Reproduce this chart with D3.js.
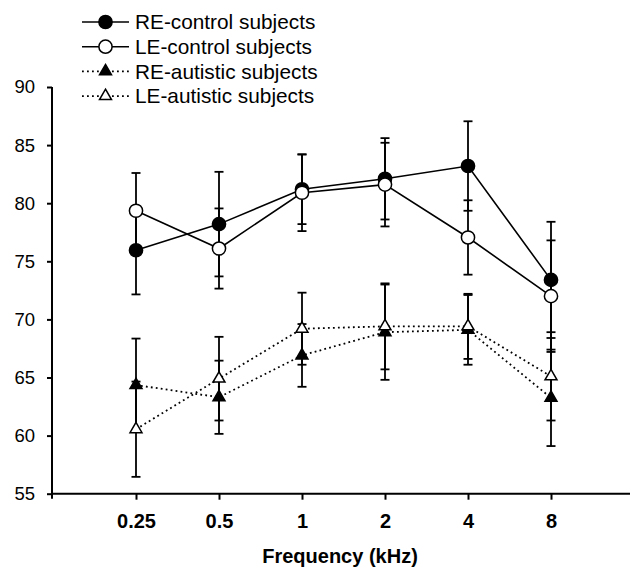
<!DOCTYPE html>
<html>
<head>
<meta charset="utf-8">
<script src="https://cdn.jsdelivr.net/npm/d3@7"></script>
<style>
  html, body { margin: 0; padding: 0; background: #fff; }
  svg { display: block; font-family: "Liberation Sans", Arial, sans-serif; }
</style>
</head>
<body>
<svg id="chart" width="630" height="567"></svg>
<script>
// ---- data ----
const frequencies = ["0.25", "0.5", "1", "2", "4", "8"];
const yTicks = [55, 60, 65, 70, 75, 80, 85, 90];

const reControl = [75.95, 78.2, 81.2, 82.1, 83.2, 73.4];
const reControlErr = [3.8, 4.5, 3.0, 3.5, 3.85, 5.0];
const leControl = [79.35, 76.1, 80.9, 81.6, 77.05, 72.0];
const leControlErr = [3.25, 3.45, 3.3, 3.6, 3.2, 4.8];
const reAutistic = [64.35, 63.3, 66.9, 68.9, 69.1, 63.25];
const reAutisticErr = [4.0, 3.15, 2.7, 4.1, 3.0, 4.15];
const leAutistic = [60.55, 64.9, 69.2, 69.4, 69.4, 65.1];
const leAutisticErr = [4.1, 3.6, 3.1, 3.7, 2.8, 3.8];

const seriesNames = ["RE-control subjects", "LE-control subjects", "RE-autistic subjects", "LE-autistic subjects"];

const series = [
  { name: seriesNames[0], values: reControl, err: reControlErr, shape: "circle", fill: "#000", dotted: false },
  { name: seriesNames[1], values: leControl, err: leControlErr, shape: "circle", fill: "#fff", dotted: false },
  { name: seriesNames[2], values: reAutistic, err: reAutisticErr, shape: "triangle", fill: "#000", dotted: true },
  { name: seriesNames[3], values: leAutistic, err: leAutisticErr, shape: "triangle", fill: "#fff", dotted: true }
];

// ---- scales ----
const svg = d3.select("#chart");
const x = d3.scalePoint().domain(frequencies).range([53, 634]).padding(1);
const y = d3.scaleLinear().domain([55, 90]).range([493.7, 87]);

// ---- axes ----
const yAxis = svg.append("g")
  .attr("transform", "translate(52,0)")
  .call(d3.axisLeft(y).tickValues(yTicks).tickSize(5).tickSizeOuter(0).tickPadding(12));
yAxis.select(".domain").attr("stroke-width", 2).attr("d", `M0,${y(90)}V${y(55) + 5}`);
yAxis.selectAll(".tick line").attr("stroke-width", 2);
yAxis.selectAll(".tick text").attr("font-size", 18.5).attr("fill", "#000")
  .attr("font-family", "Liberation Sans, Arial, sans-serif");

const xAxis = svg.append("g")
  .attr("transform", `translate(0,${y(55)})`)
  .call(d3.axisBottom(x).tickSize(6).tickSizeOuter(0).tickPadding(14));
xAxis.select(".domain").attr("stroke-width", 2).attr("d", `M51,0H634`);
xAxis.selectAll(".tick line").attr("stroke-width", 2);
xAxis.selectAll(".tick text").attr("font-size", 20).attr("font-weight", "bold").attr("fill", "#000")
  .attr("font-family", "Liberation Sans, Arial, sans-serif");

svg.append("text")
  .attr("x", 340).attr("y", 563)
  .attr("text-anchor", "middle")
  .attr("font-size", 20).attr("font-weight", "bold")
  .text("Frequency (kHz)");

// ---- marks ----
const symTri = d3.symbol().type(d3.symbolTriangle).size(62);
function drawMarker(g, s, cx, cy) {
  if (s.shape === "circle") {
    g.append("circle").attr("cx", cx).attr("cy", cy).attr("r", 6.6)
      .attr("fill", s.fill).attr("stroke", "#000").attr("stroke-width", 1.5);
  } else {
    g.append("path").attr("d", symTri()).attr("transform", `translate(${cx},${cy})`)
      .attr("fill", s.fill).attr("stroke", "#000").attr("stroke-width", 1.5);
  }
}

const errG = svg.append("g");
series.forEach(s => {
  s.values.forEach((v, i) => {
    const cx = x(frequencies[i]);
    const y1 = y(v + s.err[i]), y2 = y(v - s.err[i]);
    errG.append("line").attr("x1", cx).attr("x2", cx).attr("y1", y1).attr("y2", y2)
      .attr("stroke", "#000").attr("stroke-width", 1.8);
    [y1, y2].forEach(yy => errG.append("line")
      .attr("x1", cx - 4.5).attr("x2", cx + 4.5).attr("y1", yy).attr("y2", yy)
      .attr("stroke", "#000").attr("stroke-width", 1.8));
  });
});

const lineGen = d3.line().x((d, i) => x(frequencies[i])).y(d => y(d));
const linesG = svg.append("g");
series.forEach(s => {
  linesG.append("path").attr("d", lineGen(s.values))
    .attr("fill", "none").attr("stroke", "#000")
    .attr("stroke-width", s.dotted ? 1.8 : 1.6)
    .attr("stroke-dasharray", s.dotted ? "1.8,3.2" : null);
});

const markG = svg.append("g");
series.forEach(s => {
  s.values.forEach((v, i) => drawMarker(markG, s, x(frequencies[i]), y(v)));
});

// ---- legend ----
const legend = svg.append("g");
series.forEach((s, i) => {
  const ly = 22 + i * 24.7;
  legend.append("line").attr("x1", 82).attr("x2", 129).attr("y1", ly).attr("y2", ly)
    .attr("stroke", "#000").attr("stroke-width", s.dotted ? 1.8 : 1.6)
    .attr("stroke-dasharray", s.dotted ? "1.8,3.2" : null);
  drawMarker(legend, s, 105.5, ly);
  legend.append("text").attr("x", 135).attr("y", ly).attr("dy", "0.35em")
    .attr("font-size", 20.8).attr("fill", "#000").text(s.name);
});
</script>
</body>
</html>
